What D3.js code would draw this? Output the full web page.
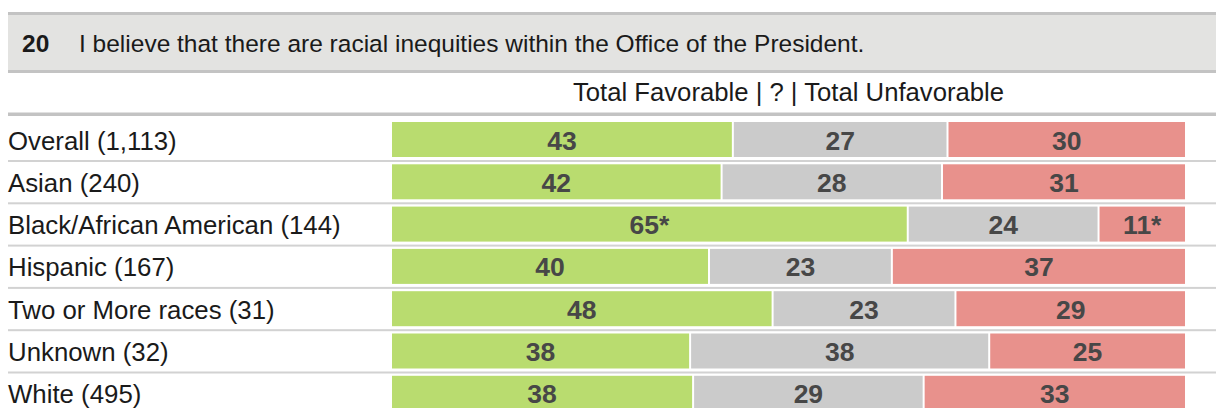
<!DOCTYPE html>
<html>
<head>
<meta charset="utf-8">
<script src="https://cdn.jsdelivr.net/npm/d3@7"></script>
<style>
  html, body { margin: 0; padding: 0; background: #fff; }
  svg { display: block; font-family: "Liberation Sans", Arial, sans-serif; }
</style>
</head>
<body>
<svg id="chart" width="1216" height="408"></svg>
<script>
const questionNumber = "20";
const questionText = "I believe that there are racial inequities within the Office of the President.";
const columnHeader = "Total Favorable | ? | Total Unfavorable";
const categories = ["Overall (1,113)", "Asian (240)", "Black/African American (144)", "Hispanic (167)", "Two or More races (31)", "Unknown (32)", "White (495)"];
const seriesKeys = ["favorable", "neutral", "unfavorable"];
const favorable = [43, 42, 65, 40, 48, 38, 38];
const neutral = [27, 28, 24, 23, 23, 38, 29];
const unfavorable = [30, 31, 11, 37, 29, 25, 33];
const favorableLabels = ["43", "42", "65*", "40", "48", "38", "38"];
const neutralLabels = ["27", "28", "24", "23", "23", "38", "29"];
const unfavorableLabels = ["30", "31", "11*", "37", "29", "25", "33"];

const colors = { favorable: "#b9dc6f", neutral: "#cbcbcb", unfavorable: "#e8918c" };
const labelsByKey = { favorable: favorableLabels, neutral: neutralLabels, unfavorable: unfavorableLabels };

const rows = categories.map((c, i) => ({
  category: c, favorable: favorable[i], neutral: neutral[i], unfavorable: unfavorable[i]
}));

const svg = d3.select("#chart");
const W = 1216;

// Header box
svg.append("rect").attr("x", 8).attr("y", 14).attr("width", W - 8).attr("height", 57).attr("fill", "#e3e3e1");
svg.append("rect").attr("x", 8).attr("y", 12).attr("width", W - 8).attr("height", 3).attr("fill", "#c3c3c3");
svg.append("rect").attr("x", 8).attr("y", 70).attr("width", W - 8).attr("height", 3).attr("fill", "#c3c3c3");
svg.append("text").attr("x", 22).attr("y", 52).attr("font-size", 24.5).attr("font-weight", "bold").attr("fill", "#1a1a1a").text(questionNumber);
svg.append("text").attr("x", 79).attr("y", 52).attr("font-size", 24.5).attr("fill", "#1a1a1a").text(questionText);

// Scales
const x = d3.scaleLinear().domain([0, 1]).range([391, 1186]);
const step = 42.3;
const pIn = 7.3 / step;
const y = d3.scaleBand().domain(categories)
  .range([122 - (pIn / 2) * step, 122 - (pIn / 2) * step + categories.length * step])
  .paddingInner(pIn).paddingOuter(pIn / 2);

// Column header
svg.append("text").attr("x", (x(0) + x(1)) / 2).attr("y", 101).attr("text-anchor", "middle")
  .attr("font-size", 25.7).attr("fill", "#1a1a1a").text(columnHeader);
svg.append("rect").attr("x", 8).attr("y", 112.5).attr("width", W - 8).attr("height", 3.5).attr("fill", "#c3c3c3");

// Row separators
categories.slice(0, -1).forEach((c, i) => {
  svg.append("rect").attr("x", 8).attr("y", y(c) + y.bandwidth() + 3).attr("width", W - 8).attr("height", 2).attr("fill", "#d2d2d2");
});

// Stacked bars (normalized)
const stack = d3.stack().keys(seriesKeys).offset(d3.stackOffsetExpand);
const series = stack(rows);

const g = svg.append("g");
series.forEach(s => {
  const key = s.key;
  s.forEach((d, i) => {
    const x0 = x(d[0]), x1 = x(d[1]);
    const yy = y(d.data.category);
    g.append("rect")
      .attr("x", x0 + 1).attr("y", yy)
      .attr("width", Math.max(0, x1 - x0 - 2)).attr("height", y.bandwidth())
      .attr("fill", colors[key]);
    g.append("text")
      .attr("x", (x0 + x1) / 2).attr("y", yy + y.bandwidth() / 2 + 1)
      .attr("text-anchor", "middle").attr("dominant-baseline", "central")
      .attr("font-size", 26.5).attr("font-weight", "bold").attr("fill", "#474747")
      .text(labelsByKey[key][i]);
  });
});

// Category labels
categories.forEach(c => {
  svg.append("text").attr("x", 8).attr("y", y(c) + y.bandwidth() / 2 + 1)
    .attr("dominant-baseline", "central")
    .attr("font-size", 25.8).attr("fill", "#1a1a1a").text(c);
});
</script>
</body>
</html>
